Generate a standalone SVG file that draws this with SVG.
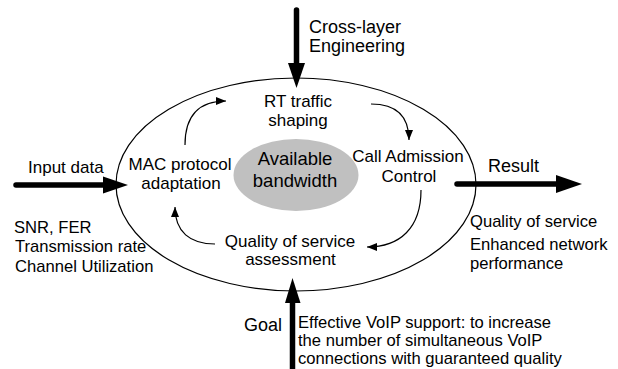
<svg xmlns="http://www.w3.org/2000/svg" width="618" height="369" viewBox="0 0 618 369">
<defs>
<style>
text{font-family:"Liberation Sans",Arial,sans-serif;fill:#000}
.in{font-size:17px;text-anchor:middle}
.big{font-size:18.5px;text-anchor:middle}
.out{font-size:18px}
.sm{font-size:16.6px}
.thin{fill:none;stroke:#000;stroke-width:1.2;marker-end:url(#ah)}
.thick{stroke:#000;stroke-width:5.5;stroke-linecap:round}
</style>
<marker id="ah" viewBox="0 0 10 8" refX="10" refY="4" markerWidth="10" markerHeight="8" markerUnits="userSpaceOnUse" orient="auto">
<path d="M0,0 L10,4 L0,8 Z" fill="#000"/>
</marker>
</defs>
<rect width="618" height="369" fill="#fff"/>
<g id="ellipse-outer">
<ellipse cx="296" cy="184.5" rx="180" ry="106.5" fill="none" stroke="#000" stroke-width="1.2"/>
</g>
<g id="available-bandwidth">
<ellipse cx="296" cy="175" rx="62.5" ry="36" fill="#c0c0c0"/>
<text class="big" x="295" y="165">Available</text>
<text class="big" x="295" y="187">bandwidth</text>
</g>
<g id="rt-traffic-shaping">
<text class="in" x="298" y="107">RT traffic</text>
<text class="in" x="298" y="126">shaping</text>
</g>
<g id="mac-protocol">
<text class="in" x="180" y="170">MAC protocol</text>
<text class="in" x="181" y="189">adaptation</text>
</g>
<g id="call-admission">
<text class="in" x="408" y="162">Call Admission</text>
<text class="in" x="409" y="182">Control</text>
</g>
<g id="qos-assessment">
<text class="in" x="290" y="247">Quality of service</text>
<text class="in" x="290.5" y="265">assessment</text>
</g>
<g id="cross-layer">
<text class="out" x="309" y="33">Cross-layer</text>
<text class="out" x="309" y="52">Engineering</text>
</g>
<g id="input-data">
<text class="out" x="28" y="173" style="font-size:17px">Input data</text>
<text class="sm" x="14" y="233">SNR, FER</text>
<text class="sm" x="15" y="252">Transmission rate</text>
<text class="sm" x="15" y="272">Channel Utilization</text>
</g>
<g id="result">
<text class="out" x="488" y="172">Result</text>
<text class="sm" x="470" y="227">Quality of service</text>
<text class="sm" x="470" y="250">Enhanced network</text>
<text class="sm" x="470" y="269">performance</text>
</g>
<g id="goal">
<text class="out" x="244" y="331">Goal</text>
<text class="sm" x="298" y="328">Effective VoIP support: to increase</text>
<text class="sm" x="298" y="346">the number of simultaneous VoIP</text>
<text class="sm" x="298" y="364">connections with guaranteed quality</text>
</g>
<g id="connectors">
<line class="thick" x1="296.5" y1="10" x2="296.5" y2="66"/>
<polygon points="288,63 305,63 296.5,88" fill="#000"/>
<line class="thick" x1="16" y1="185" x2="106" y2="185"/>
<polygon points="103,176.5 103,193.5 128,185" fill="#000"/>
<line class="thick" x1="457" y1="184" x2="559" y2="184"/>
<polygon points="556,175 556,193 582,184" fill="#000"/>
<line class="thick" x1="292.5" y1="300" x2="292.5" y2="372" style="stroke-linecap:butt"/>
<polygon points="285,303 300.5,303 292.5,278" fill="#000"/>
<path class="thin" d="M185,145 C185,116 198,101 226,101"/>
<path class="thin" d="M371,104 C395,104 409,115 409,140"/>
<path class="thin" d="M421,190 C421,228 400,247 367,247"/>
<path class="thin" d="M215,244 C190,244 175,232 175,207"/>
</g>
</svg>
